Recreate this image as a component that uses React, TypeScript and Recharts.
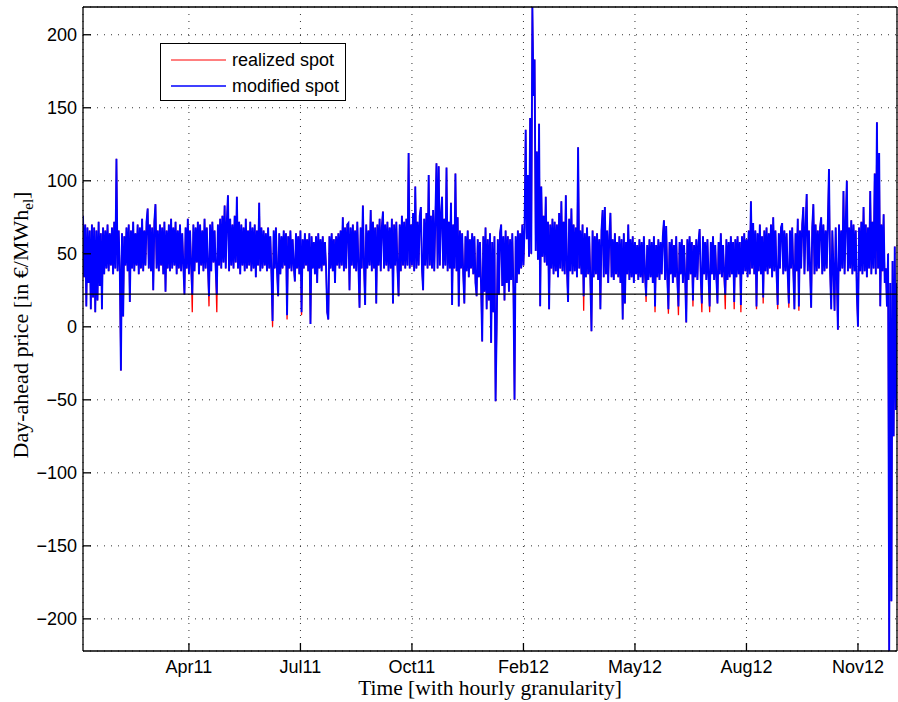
import React from 'react';
import { ComposedChart, Line, XAxis, YAxis, CartesianGrid, ReferenceLine, Legend } from 'recharts';

// one value per day (day 0 = start of Jan 2011), alternating the hourly highs / lows of each day
const modifiedSpot: number[] = [
  76, 34, 70, 14, 68, 30, 66, 12, 70, 20,
  68, 10, 66, 18, 72, 28, 64, 12, 68, 36,
  66, 40, 70, 38, 64, 42, 68, 36, 72, 40,
  115, 38, 66, 40, -30, 64, 7, 62, 42, 68,
  38, 70, 17, 66, 40, 72, 38, 64, 42, 70,
  36, 68, 40, 74, 38, 66, 42, 72, 81, 40,
  70, 38, 68, 25, 72, 84, 40, 66, 38, 70,
  42, 68, 36, 72, 24, 66, 40, 70, 38, 74,
  40, 68, 42, 72, 36, 66, 40, 70, 38, 64,
  42, 22, 68, 40, 74, 36, 66, 42, 22, 70,
  38, 68, 44, 72, 36, 70, 42, 66, 38, 74,
  40, 68, 42, 21, 70, 38, 72, 44, 66, 40,
  22, 70, 42, 74, 40, 76, 44, 83, 40, 72,
  90, 38, 74, 42, 70, 40, 76, 44, 89, 40,
  72, 36, 70, 42, 68, 38, 74, 40, 66, 42,
  72, 38, 68, 40, 70, 34, 66, 42, 85, 38,
  68, 40, 66, 42, 64, 38, 68, 40, 62, 36,
  4, 66, 40, 68, 38, 21, 64, 36, 62, 40,
  66, 42, 64, 8, 62, 40, 66, 38, 60, 42,
  31, 64, 40, 62, 36, 66, 10, 60, 40, 64,
  42, 60, 38, 64, 2, 62, 40, 58, 36, 62,
  30, 64, 40, 60, 38, 62, 42, 58, 40, 10,
  5, 62, 40, 64, 38, 60, 30, 62, 42, 64,
  40, 66, 42, 75, 38, 68, 40, 70, 71, 25,
  68, 42, 70, 40, 66, 38, 72, 42, 13, 68,
  40, 83, 42, 15, 70, 40, 66, 42, 80, 38,
  72, 40, 68, 16, 70, 42, 74, 38, 68, 79,
  40, 70, 42, 72, 38, 68, 40, 74, 16, 70,
  42, 72, 40, 21, 70, 38, 76, 42, 72, 40,
  74, 42, 119, 40, 70, 42, 78, 38, 96, 40,
  72, 42, 76, 82, 40, 25, 74, 42, 78, 40,
  104, 42, 76, 40, 80, 38, 74, 112, 40, 110,
  42, 76, 89, 40, 74, 42, 109, 38, 72, 40,
  85, 15, 70, 40, 105, 38, 75, 14, 66, 40,
  64, 36, 16, 62, 38, 66, 34, 60, 40, 64,
  36, 62, 30, 21, 60, 34, 58, 28, -10, 62,
  24, 68, 12, 60, 18, 64, -11, 58, 10, 62,
  -51, 0, 60, 22, 64, 70, 28, 62, 18, 66,
  30, 62, 24, 60, 32, 64, 26, -50, 62, 30,
  66, 36, 64, 40, 70, 42, 68, 135, 60, 104,
  48, 143, 50, 219, 158, 183, 52, 120, 46, 139,
  14, 96, 48, 76, 44, 89, 42, 72, 12, 70,
  40, 74, 36, 72, 38, 70, 34, 78, 40, 86,
  38, 72, 36, 90, 40, 17, 74, 38, 81, 36,
  70, 38, 68, 34, 123, 40, 66, 36, 70, 21,
  64, 34, 68, 36, 62, 32, -3, 66, 34, 62,
  36, 64, 32, 60, 12, 66, 80, 34, 82, 36,
  66, 30, 62, 78, 34, 60, 32, 64, 36, 58,
  34, 62, 30, 60, 5, 64, 16, 58, 36, 70,
  32, 60, 34, 62, 30, 58, 36, 56, 32, 60,
  34, 58, 30, 62, 36, 21, 56, 32, 60, 34,
  58, 30, 62, 14, 56, 34, 60, 32, 58, 36,
  62, 73, 32, 69, 34, 12, 58, 36, 60, 30,
  56, 34, 62, 32, 14, 58, 36, 60, 30, 56,
  34, 3, 60, 32, 62, 36, 58, 18, 56, 34,
  60, 32, 58, 67, 34, 16, 62, 36, 58, 32,
  60, 34, 14, 58, 36, 62, 32, 56, 34, 16,
  58, 36, 64, 34, 56, 36, 22, 60, 32, 58,
  34, 62, 36, 58, 17, 60, 34, 62, 36, 58,
  15, 62, 36, 64, 38, 60, 34, 66, 36, 86,
  40, 71, 36, 66, 14, 64, 38, 70, 36, 62,
  20, 66, 38, 68, 36, 64, 40, 70, 34, 75,
  38, 66, 36, 15, 64, 40, 68, 71, 36, 66,
  38, 64, 36, 16, 66, 40, 68, 38, 12, 64,
  38, 74, 14, 66, 40, 70, 82, 36, 68, 91,
  38, 66, 40, 13, 68, 84, 36, 70, 38, 66,
  40, 68, 75, 36, 70, 38, 66, 40, 72, 108,
  38, 12, 66, 40, 11, 68, 36, -2, 70, 38,
  66, 40, 93, 36, 70, 100, 38, 68, 40, 73,
  36, 70, 38, 66, 22, 0, 68, 38, 72, 36,
  82, 38, 70, 34, 68, 40, 93, 36, 72, 40,
  105, 36, 140, 40, 119, 14, 70, 38, 77, 30,
  40, 14, 50, -222, 30, -188, 45, -75, 55, -57,
  30,
];

// days on which the realized spot went lower than the modified spot: [day, price]
const realizedDeeperDips: [number, number][] = [
  [98, 10], [113, 14], [120, 10], [170, 0], [183, 5], [196, 8],
  [449, 11], [505, 17], [513, 10], [525, 9], [534, 8], [547, 14], [555, 10],
  [562, 10], [576, 12], [584, 12], [590, 10], [604, 12], [610, 16],
  [623, 12], [633, 13], [642, 11],
];

const xTickDays = [95, 195, 295, 395, 495, 595, 695];
const xTickLabels = ['Apr11', 'Jul11', 'Oct11', 'Feb12', 'May12', 'Aug12', 'Nov12'];
const yTicks = [-200, -150, -100, -50, 0, 50, 100, 150, 200];
const thresholdPrice = 22.4;
const legendOrder = ['realized spot', 'modified spot'];

const dipMap = new Map<number, number>(realizedDeeperDips);
const data = modifiedSpot.map((m, day) => ({
  day,
  modified: m,
  realized: dipMap.has(day) ? (dipMap.get(day) as number) : m,
}));

const SANS = '"Liberation Sans", Arial, Helvetica, sans-serif';
const SERIF = '"Liberation Serif", "Times New Roman", serif';

const xFmt = (v: number) => {
  const k = xTickDays.indexOf(v);
  return k >= 0 ? xTickLabels[k] : '';
};
const yFmt = (v: number) => String(v).replace('-', '\u2212');

const XLabel = () => (
  <text x={490} y={695} textAnchor="middle" fontFamily={SERIF} fontSize={21.5} fill="#000">
    Time [with hourly granularity]
  </text>
);

const YLabel = () => (
  <text transform="translate(28,325) rotate(-90)" textAnchor="middle" fontFamily={SERIF} fontSize={22} fill="#000">
    Day-ahead price [in €/MWh
    <tspan fontSize={15} dy={5}>el</tspan>
    <tspan dy={-5}>]</tspan>
  </text>
);

const LegendBox = (props: any) => {
  const raw = ((props && props.payload) || []).filter((p: any) => legendOrder.includes(p.value));
  const payload = legendOrder.map((n) => raw.find((p: any) => p.value === n)).filter(Boolean);
  return (
    <svg width={187} height={58} style={{ display: 'block' }}>
      <rect x={0.5} y={0.5} width={185} height={57} fill="#fff" stroke="#000" strokeWidth={1} />
      {payload.map((p: any, k: number) => {
        const cy = 17 + k * 26;
        return (
          <g key={k}>
            <line x1={11} x2={66} y1={cy} y2={cy} stroke={p.color} strokeWidth={k === 0 ? 1 : 1.6} />
            <text x={72} y={cy + 6} fontFamily={SANS} fontSize={18} fill="#000">{p.value}</text>
          </g>
        );
      })}
    </svg>
  );
};

export default function App() {
  return (
    <div style={{ position: 'absolute', left: 0, top: 0, width: 898, height: 702, background: '#fff' }}>
      <ComposedChart width={898} height={702} data={data} margin={{ top: 6, right: 0, bottom: 0, left: 0 }}>
        <CartesianGrid stroke="#333" strokeDasharray="1 6" strokeWidth={1} />
        <XAxis
          xAxisId={0}
          dataKey="day"
          type="number"
          domain={[0, 730]}
          allowDataOverflow
          ticks={xTickDays}
          interval={0}
          tickFormatter={xFmt}
          height={51}
          tickSize={-8}
          tickMargin={17}
          stroke="#000"
          strokeWidth={1.3}
          tick={{ fill: '#000', fontSize: 18, fontFamily: SANS }}
          label={XLabel}
        />
        <XAxis
          xAxisId="top"
          orientation="top"
          dataKey="day"
          type="number"
          domain={[0, 730]}
          allowDataOverflow
          ticks={xTickDays}
          interval={0}
          height={1}
          tickSize={-8}
          stroke="#000"
          strokeWidth={1.3}
          tick={false}
        />
        <YAxis
          yAxisId={0}
          type="number"
          domain={[-222, 219]}
          allowDataOverflow
          ticks={yTicks}
          interval={0}
          tickFormatter={yFmt}
          width={83}
          tickSize={-8}
          tickMargin={14}
          stroke="#000"
          strokeWidth={1.3}
          tick={{ fill: '#000', fontSize: 18, fontFamily: SANS }}
          label={YLabel}
        />
        <YAxis
          yAxisId="right"
          orientation="right"
          type="number"
          domain={[-222, 219]}
          allowDataOverflow
          ticks={yTicks}
          interval={0}
          width={1}
          tickSize={-8}
          stroke="#000"
          strokeWidth={1.3}
          tick={false}
        />
        <Line
          name="realized spot"
          dataKey="realized"
          type="linear"
          stroke="#ff0000"
          strokeWidth={1.3}
          dot={false}
          activeDot={false}
          isAnimationActive={false}
        />
        <Line
          name="modified spot"
          dataKey="modified"
          type="linear"
          stroke="#0000ff"
          strokeWidth={1.9}
          dot={false}
          activeDot={false}
          isAnimationActive={false}
        />
        <ReferenceLine y={thresholdPrice} stroke="#000" strokeWidth={1.3} />
        <Legend
          layout="horizontal"
          verticalAlign="middle"
          align="center"
          wrapperStyle={{ left: 160, top: 43, width: 187, height: 58 }}
          content={LegendBox}
        />
      </ComposedChart>
    </div>
  );
}
